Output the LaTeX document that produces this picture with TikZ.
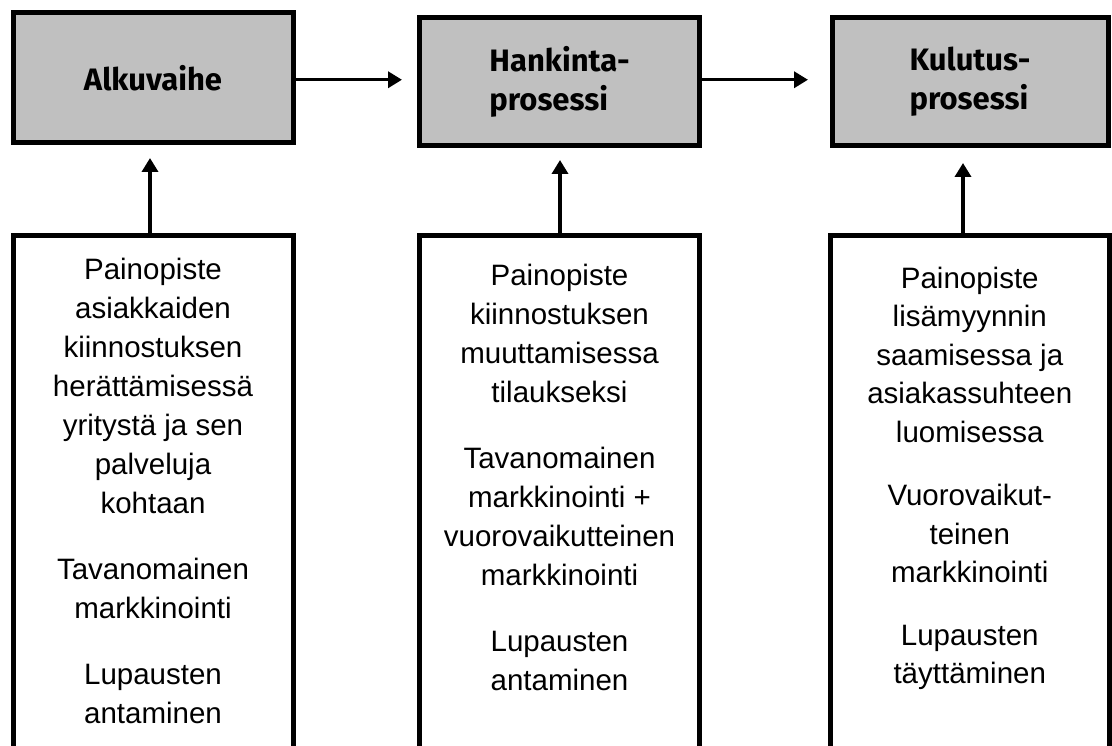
\documentclass[tikz,border=0pt]{standalone}
\usepackage{fontspec}
\setmainfont{Liberation Sans}
\newfontfamily\bodyfont{Liberation Sans}
\newfontfamily\headfont{Fira Sans}
\usetikzlibrary{arrows.meta,calc}
\definecolor{boxgray}{HTML}{C0C0C0}
\begin{document}
\begin{tikzpicture}[x=1pt,y=-1pt,
  topbox/.style={draw=black, line width=5pt, fill=boxgray, minimum height=128.5pt,
    inner sep=0pt, align=left, font=\headfont\bfseries\fontsize{31}{39}\selectfont},
  botbox/.style={draw=black, line width=5pt, fill=white, minimum height=600pt,
    inner sep=0pt, anchor=north},
  bodytext/.style={font=\bodyfont\fontsize{29.5}{39}\selectfont, align=center, inner sep=0pt, anchor=north},
  arr/.style={line width=3.5pt, -{Triangle[length=14pt,width=16pt]}}
]
\useasboundingbox (0,0) rectangle (1112,746);
\clip (0,0) rectangle (1112,746);
\fill[white] (0,0) rectangle (1112,746);

% top boxes
\node[topbox, minimum width=280pt, minimum height=130.5pt] (a1) at (153,77.75) {Alkuvaihe};
\node[topbox, minimum width=280pt] (a2) at (559.5,81.75) {Hankinta-\\prosessi};
\node[topbox, minimum width=276pt] (a3) at (970,81.75) {Kulutus-\\prosessi};

% bottom boxes
\node[botbox, minimum width=280pt] (b1) at (153,233) {};
\node[botbox, minimum width=280pt] (b2) at (559.5,233) {};
\node[botbox, minimum width=279.5pt] (b3) at (969.75,233) {};

% texts
\node[bodytext] (t1) at (153,258) {Painopiste\\asiakkaiden\\kiinnostuksen\\herättämisessä\\yritystä ja sen\\palveluja\\kohtaan\\[27pt]Tavanomainen\\markkinointi\\[27pt]Lupausten\\antaminen};
\node[bodytext] (t2) at (559.5,264) {Painopiste\\kiinnostuksen\\muuttamisessa\\tilaukseksi\\[27pt]Tavanomainen\\markkinointi +\\vuorovaikutteinen\\markkinointi\\[27pt]Lupausten\\antaminen};
\node[bodytext, font=\bodyfont\fontsize{29.5}{38.5}\selectfont] (t3) at (969.75,266.5) {Painopiste\\lisämyynnin\\saamisessa ja\\asiakassuhteen\\luomisessa\\[25pt]Vuorovaikut-\\teinen\\markkinointi\\[24pt]Lupausten\\täyttäminen};

% horizontal arrows
\draw[arr, shorten >=15pt] ([yshift=-2pt]a1.east) -- ([yshift=-2pt]a1.east -| a2.west);
\draw[arr, shorten >=21.5pt] ([yshift=2pt]a2.east) -- ([yshift=2pt]a2.east -| a3.west);

% vertical arrows
\draw[arr, shorten >=12.5pt] ([xshift=-3pt]b1.north) -- ([xshift=-3pt]b1.north |- a1.south);
\draw[arr, shorten >=11.5pt] ([xshift=0.5pt]b2.north) -- ([xshift=0.5pt]b2.north |- a2.south);
\draw[arr, shorten >=14.5pt] ([xshift=-6.75pt]b3.north) -- ([xshift=-6.75pt]b3.north |- a3.south);
\end{tikzpicture}
\end{document}
